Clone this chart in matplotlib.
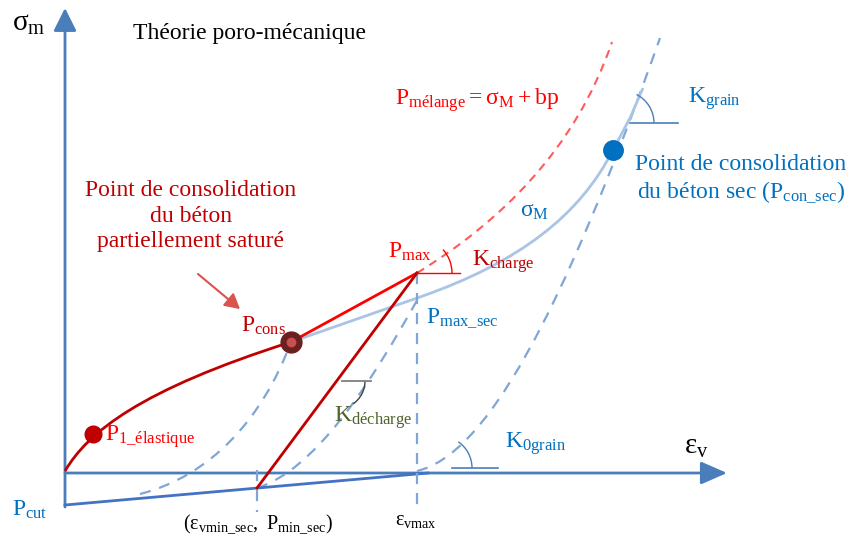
import matplotlib
matplotlib.use("Agg")
import matplotlib.pyplot as plt
from matplotlib.path import Path
from matplotlib.patches import PathPatch, FancyArrowPatch, Arc

plt.rcParams['font.family'] = ['Liberation Serif', 'DejaVu Serif']
plt.rcParams['mathtext.fontset'] = 'custom'
plt.rcParams['mathtext.rm'] = 'Liberation Serif'
plt.rcParams['mathtext.it'] = 'Liberation Serif'
plt.rcParams['mathtext.bf'] = 'Liberation Serif'

# ---- schematic geometry (diagram units, y grows downward) ----
origin = (65, 473)
x_axis_end = 727
y_axis_top = 8
y_axis_bottom = 507

P_cut = (65, 505)
P_min_sec = (257, 488)
eps_vmax_pt = (428, 473)
P_1 = (93, 434)
P_cons = (291, 342)
P_max = (417, 273)
P_max_sec = (417, 297)
P_con_sec = (613, 150)

# loading curve (dark red) from origin to P_cons, cubic Bezier control points
load_curve = [(65, 471), (88, 432), (140, 390), (291, 342)]
# sigma_M curve (light blue)
sigmaM_curve = [(291, 342), (420, 297), (520, 262), (580, 215), (613, 150), (630, 118), (643, 88)]
# mixture curve (red dashed)
melange_curve = [(417, 273), (500, 222), (575, 150), (612, 42)]
# unloading dashed curves (blue dashed)
dash_left = [(140, 494), (210, 476), (262, 420), (291, 342)]
dash_mid = [(257, 488), (315, 470), (370, 385), (420, 295)]
dash_right = [(417, 471), (485, 455), (560, 320), (660, 38)]

c_axis = '#4A7EBB'
c_darkred = '#C00000'
c_red = '#FF0000'
c_lightblue = '#A9C4E4'
c_dash = '#7FA6D6'
c_blue = '#0070C0'
c_green = '#4F6228'

fig = plt.figure(figsize=(8.49, 5.36), dpi=100)
ax = fig.add_axes([0, 0, 1, 1])
ax.set_xlim(0, 849)
ax.set_ylim(536, 0)
ax.axis('off')


def bez(pts, **kw):
    codes = [Path.MOVETO] + [Path.CURVE4] * (len(pts) - 1)
    ax.add_patch(PathPatch(Path(pts, codes), fill=False, **kw))


# axes arrows
ax.add_patch(FancyArrowPatch((origin[0], y_axis_bottom), (origin[0], y_axis_top),
                             arrowstyle='-|>,head_length=14,head_width=7', color=c_axis,
                             lw=2, mutation_scale=1, shrinkA=0, shrinkB=0))
ax.add_patch(FancyArrowPatch((origin[0], origin[1]), (x_axis_end, origin[1]),
                             arrowstyle='-|>,head_length=16,head_width=7', color=c_axis,
                             lw=2, mutation_scale=1, shrinkA=0, shrinkB=0))

# cut line
ax.plot([P_cut[0], eps_vmax_pt[0]], [P_cut[1], eps_vmax_pt[1]], color='#4472C4', lw=2)

# vertical dashed lines
ax.plot([P_min_sec[0]] * 2, [P_min_sec[1] - 18, 512], color=c_dash, lw=1.6, ls=(0, (5, 4)))
ax.plot([P_max[0]] * 2, [P_max[1], 512], color=c_dash, lw=1.6, ls=(0, (5, 4)))

# dashed unloading curves
for crv in (dash_left, dash_mid, dash_right):
    bez(crv, edgecolor=c_dash, lw=1.6, ls=(0, (5, 4)))

# sigma_M curve
codes = [Path.MOVETO, Path.LINETO, Path.CURVE4, Path.CURVE4, Path.CURVE4, Path.LINETO, Path.LINETO]
ax.add_patch(PathPatch(Path(sigmaM_curve, codes), fill=False, edgecolor=c_lightblue, lw=2))

# mixture curve
bez(melange_curve, edgecolor='#FF5B5B', lw=1.5, ls=(0, (4, 3)))

# loading curve and lines
bez(load_curve, edgecolor=c_darkred, lw=2)
ax.plot([P_cons[0], P_max[0]], [P_cons[1], P_max[1]], color=c_red, lw=2)
ax.plot([P_min_sec[0], P_max[0]], [P_min_sec[1], P_max[1]], color=c_darkred, lw=2)

# angle markers
ax.plot([342, 371], [381, 381], color='#7F7F7F', lw=1.3)
ax.add_patch(Arc((337, 381), 56, 56, theta1=0, theta2=55, color='#404040', lw=1))
ax.plot([417, 460], [273, 273], color=c_red, lw=1)
ax.add_patch(Arc((417, 273), 70, 70, theta1=-42, theta2=0, color=c_red, lw=1))
ax.plot([452, 498], [468, 468], color=c_axis, lw=1.2)
ax.add_patch(Arc((440, 468), 64, 64, theta1=-55, theta2=0, color=c_axis, lw=1))
ax.plot([630, 678], [123, 123], color=c_axis, lw=1.2)
ax.add_patch(Arc((622, 123), 64, 64, theta1=-63, theta2=0, color=c_axis, lw=1))

# markers
ax.plot(*P_1, 'o', ms=12, color=c_darkred, zorder=5)
ax.plot(*P_cons, 'o', ms=15, color='#6B2020', zorder=5)
ax.plot(*P_cons, 'o', ms=6, color='#C85050', zorder=6)
ax.plot(*P_con_sec, 'o', ms=14, color=c_blue, zorder=5)

# arrow to P_cons
ax.add_patch(FancyArrowPatch((198, 274), (240, 309),
                             arrowstyle='-|>,head_length=9,head_width=5', color='#D9534F',
                             lw=1.5, mutation_scale=1, shrinkA=0, shrinkB=0))

fs = 17
# texts
ax.text(12, 24, r'$\mathrm{σ_m}$', fontsize=21, va='center', ha='left', color='black')
ax.text(133, 33, 'Théorie poro-mécanique', fontsize=17, va='center', ha='left', color='black')
ax.text(395, 100, r'$\mathrm{P_{mélange}=σ_M+bp}$', fontsize=fs, va='center', ha='left', color=c_red)
ax.text(191, 216, 'Point de consolidation\ndu béton\npartiellement saturé', fontsize=fs,
        va='center', ha='center', color=c_darkred, linespacing=1.3)
ax.text(388, 252, r'$\mathrm{P_{max}}$', fontsize=fs, va='center', ha='left', color=c_red)
ax.text(472, 262, r'$\mathrm{K_{charge}}$', fontsize=fs, va='center', ha='left', color=c_darkred)
ax.text(241, 326, r'$\mathrm{P_{cons}}$', fontsize=fs, va='center', ha='left', color=c_darkred)
ax.text(426, 318, r'$\mathrm{P_{max\_sec}}$', fontsize=fs, va='center', ha='left', color=c_blue)
ax.text(520, 212, r'$\mathrm{σ_M}$', fontsize=fs, va='center', ha='left', color=c_blue)
ax.text(741, 164, 'Point de consolidation', fontsize=fs, va='center', ha='center', color=c_blue)
ax.text(741, 192, r'$\mathrm{du\ béton\ sec\ (P_{con\_sec})}$', fontsize=fs, va='center', ha='center', color=c_blue)
ax.text(688, 99, r'$\mathrm{K_{grain}}$', fontsize=fs, va='center', ha='left', color=c_blue)
ax.text(105, 437, r'$\mathrm{P_{1\_élastique}}$', fontsize=fs, va='center', ha='left', color=c_red)
ax.text(334, 418, r'$\mathrm{K_{décharge}}$', fontsize=fs, va='center', ha='left', color=c_green)
ax.text(505, 444, r'$\mathrm{K_{0grain}}$', fontsize=fs, va='center', ha='left', color=c_blue)
ax.text(684, 447, r'$\mathrm{ε_v}$', fontsize=21, va='center', ha='left', color='black')
ax.text(12, 510, r'$\mathrm{P_{cut}}$', fontsize=fs, va='center', ha='left', color=c_blue)
ax.text(258, 524, r'$\mathrm{(ε_{vmin\_sec},\ P_{min\_sec})}$', fontsize=14.5, va='center', ha='center', color='black')
ax.text(416, 521, r'$\mathrm{ε_{vmax}}$', fontsize=14.5, va='center', ha='center', color='black')

fig.savefig('out.png', dpi=100, facecolor='white')
